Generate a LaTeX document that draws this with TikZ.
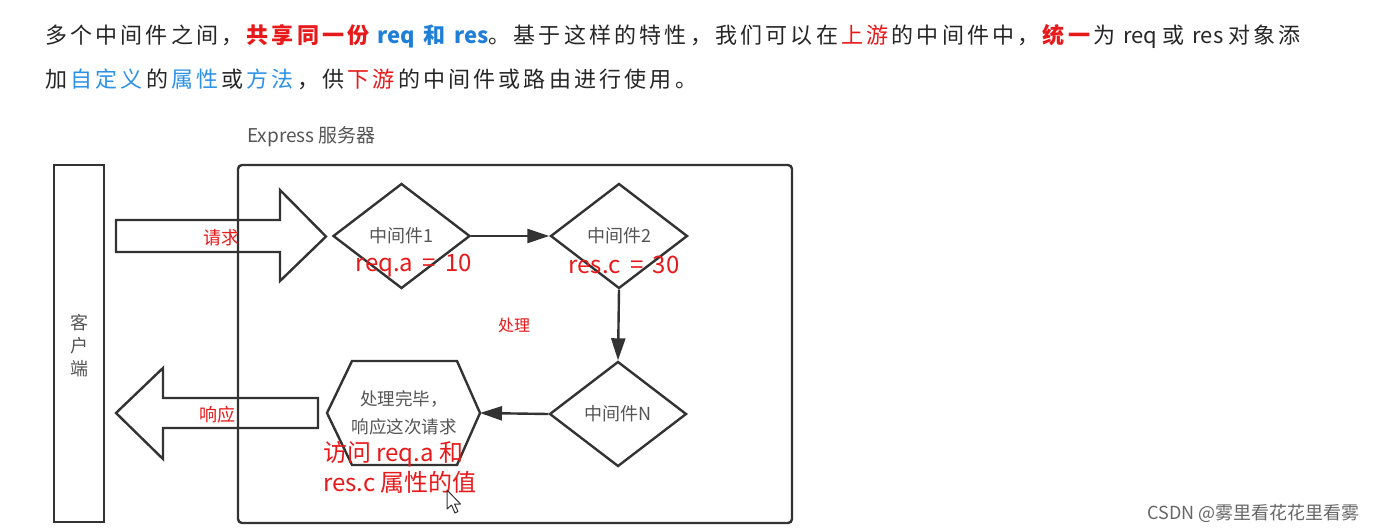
\documentclass[tikz,border=0pt]{standalone}
\usepackage{fontspec}
\setmainfont{Noto Sans CJK SC}
\usetikzlibrary{shapes.geometric,arrows.meta}
\definecolor{ln}{HTML}{333333}
\definecolor{txt}{HTML}{555555}
\definecolor{hl}{HTML}{E8191A}
\definecolor{bl}{HTML}{1F7FD8}
\definecolor{lbl}{HTML}{2C92E6}
\newcount\cjkc
\cjkc="4E00
\loop \XeTeXcharclass\cjkc=1 \advance\cjkc by 1 \ifnum\cjkc<"A000 \repeat
\XeTeXcharclass"FF0C=3 \XeTeXcharclass"3002=3
\newskip\cjkgap
\cjkgap=3.2pt
\XeTeXinterchartoks 1 1 = {\hskip\cjkgap}
\XeTeXinterchartoks 1 3 = {\hskip\cjkgap}
\XeTeXinterchartoks 3 1 = {\hskip\cjkgap}
\XeTeXinterchartoks 1 4095 = {\hskip\cjkgap}
\XeTeXinterchartoks 3 4095 = {\hskip\cjkgap}
\newcommand\spacedon{\XeTeXinterchartokenstate=1 }
\tikzset{
  mw/.style={diamond, draw=ln, line width=2.4pt, minimum width=137pt, minimum height=105pt,
    inner sep=0pt, aspect=1.3, text=txt, font=\fontsize{18}{20}\selectfont},
  flow/.style={draw=ln, line width=2.4pt, -{Triangle[length=22pt,width=14pt]}},
  redlbl/.style={text=hl, font=\fontsize{24}{28}\selectfont, inner sep=0pt},
  smallred/.style={text=hl, font=\fontsize{18}{20}\selectfont, inner sep=0pt},
  graytxt/.style={text=txt, inner sep=0pt},
  outline/.style={draw=ln, line width=2.4pt, line join=miter},
  topline/.style={anchor=west, inner sep=0pt, text=black!85,
    font=\fontsize{22}{26}\selectfont}
}
\begin{document}
\begin{tikzpicture}[x=1pt,y=-1pt]
\useasboundingbox[fill=white] (0,0) rectangle (1373,532);
% top paragraph
\node[topline] (l1) at (45,36) {\spacedon 多个中间件之间，\textcolor{hl}{\bfseries 共享同一份} \textcolor{bl}{\bfseries req\, 和 res}。基于这样的特性，我们可以在\textcolor{hl}{上游}的中间件中，\textcolor{hl}{\bfseries 统一}为 req 或 res 对象添};
\node[topline] (l2) at (45,79) {\spacedon 加\textcolor{lbl}{自定义}的\textcolor{lbl}{属性}或\textcolor{lbl}{方法}，供\textcolor{hl}{下游}的中间件或路由进行使用。};
% server title
\node[graytxt, font=\fontsize{19}{22}\selectfont, anchor=west] (title) at (247,137) {Express 服务器};
% client box
\node[outline, draw, rectangle, minimum width=50pt, minimum height=357pt, inner sep=0pt] (client) at (79,343.5) {};
\node[graytxt, font=\fontsize{18}{24}\selectfont, align=center] (clienttxt) at (79,346) {客\\[-1pt]户\\[-1pt]端};
% server box
\draw[outline, rounded corners=4pt] (238,165) rectangle (792,523);
\node[inner sep=0pt, minimum width=554pt, minimum height=358pt] (server) at (515,344) {};
% request arrow
\draw[outline] (116,220) -- (280,220) -- (280,190) -- (326,236.5) -- (280,281) -- (280,252) -- (116,252) -- cycle;
\node[smallred] (req) at (221,238) {请求};
% response arrow
\draw[outline] (318,398) -- (163,398) -- (163,368) -- (116,413) -- (163,459) -- (163,428) -- (318,428) -- cycle;
\node[smallred] (res) at (217,415) {响应};
% middlewares
\node[mw] (m1) at (401.5,236) {中间件1};
\node[mw] (m2) at (619,236) {中间件2};
\node[mw] (mn) at (618,414) {中间件N};
\node[redlbl] (m1lbl) at (414,266) {req.a \,=\, 10};
\node[redlbl] (m2lbl) at (624,265) {res.c \,=\, 30};
\node[text=hl, font=\fontsize{16}{18}\selectfont, inner sep=0pt] (proc) at (514,325) {处理};
% hexagon
\coordinate (hexR) at (480,413);
\draw[outline] (327,413) -- (352,361) -- (457,361) -- (hexR) -- (457,465) -- (352,465) -- cycle;
\node[graytxt, font=\fontsize{17.5}{28}\selectfont, align=center] (done) at (404,413) {处理完毕，\\响应这次请求};
\node[redlbl, anchor=west, align=left, font=\fontsize{24}{30}\selectfont] (access) at (323,467) {访问 req.a 和\\res.c 属性的值};
% connectors
\draw[flow] (m1.east) -- (m2.west);
\draw[flow] (m2.south) -- (mn.north);
\draw[flow] (mn.west) -- (hexR);
% cursor
\draw[fill=white, draw=ln, line width=1pt, line join=round] (447,490) -- (447,509) -- (451.5,505) -- (455,513) -- (458,511.5) -- (454.5,504) -- (460.5,504) -- cycle;
% watermark
\node[text=black!60, font=\fontsize{18}{20}\selectfont, anchor=east, inner sep=0pt] (wm) at (1360,513) {CSDN @雾里看花花里看雾};
\end{tikzpicture}
\end{document}
